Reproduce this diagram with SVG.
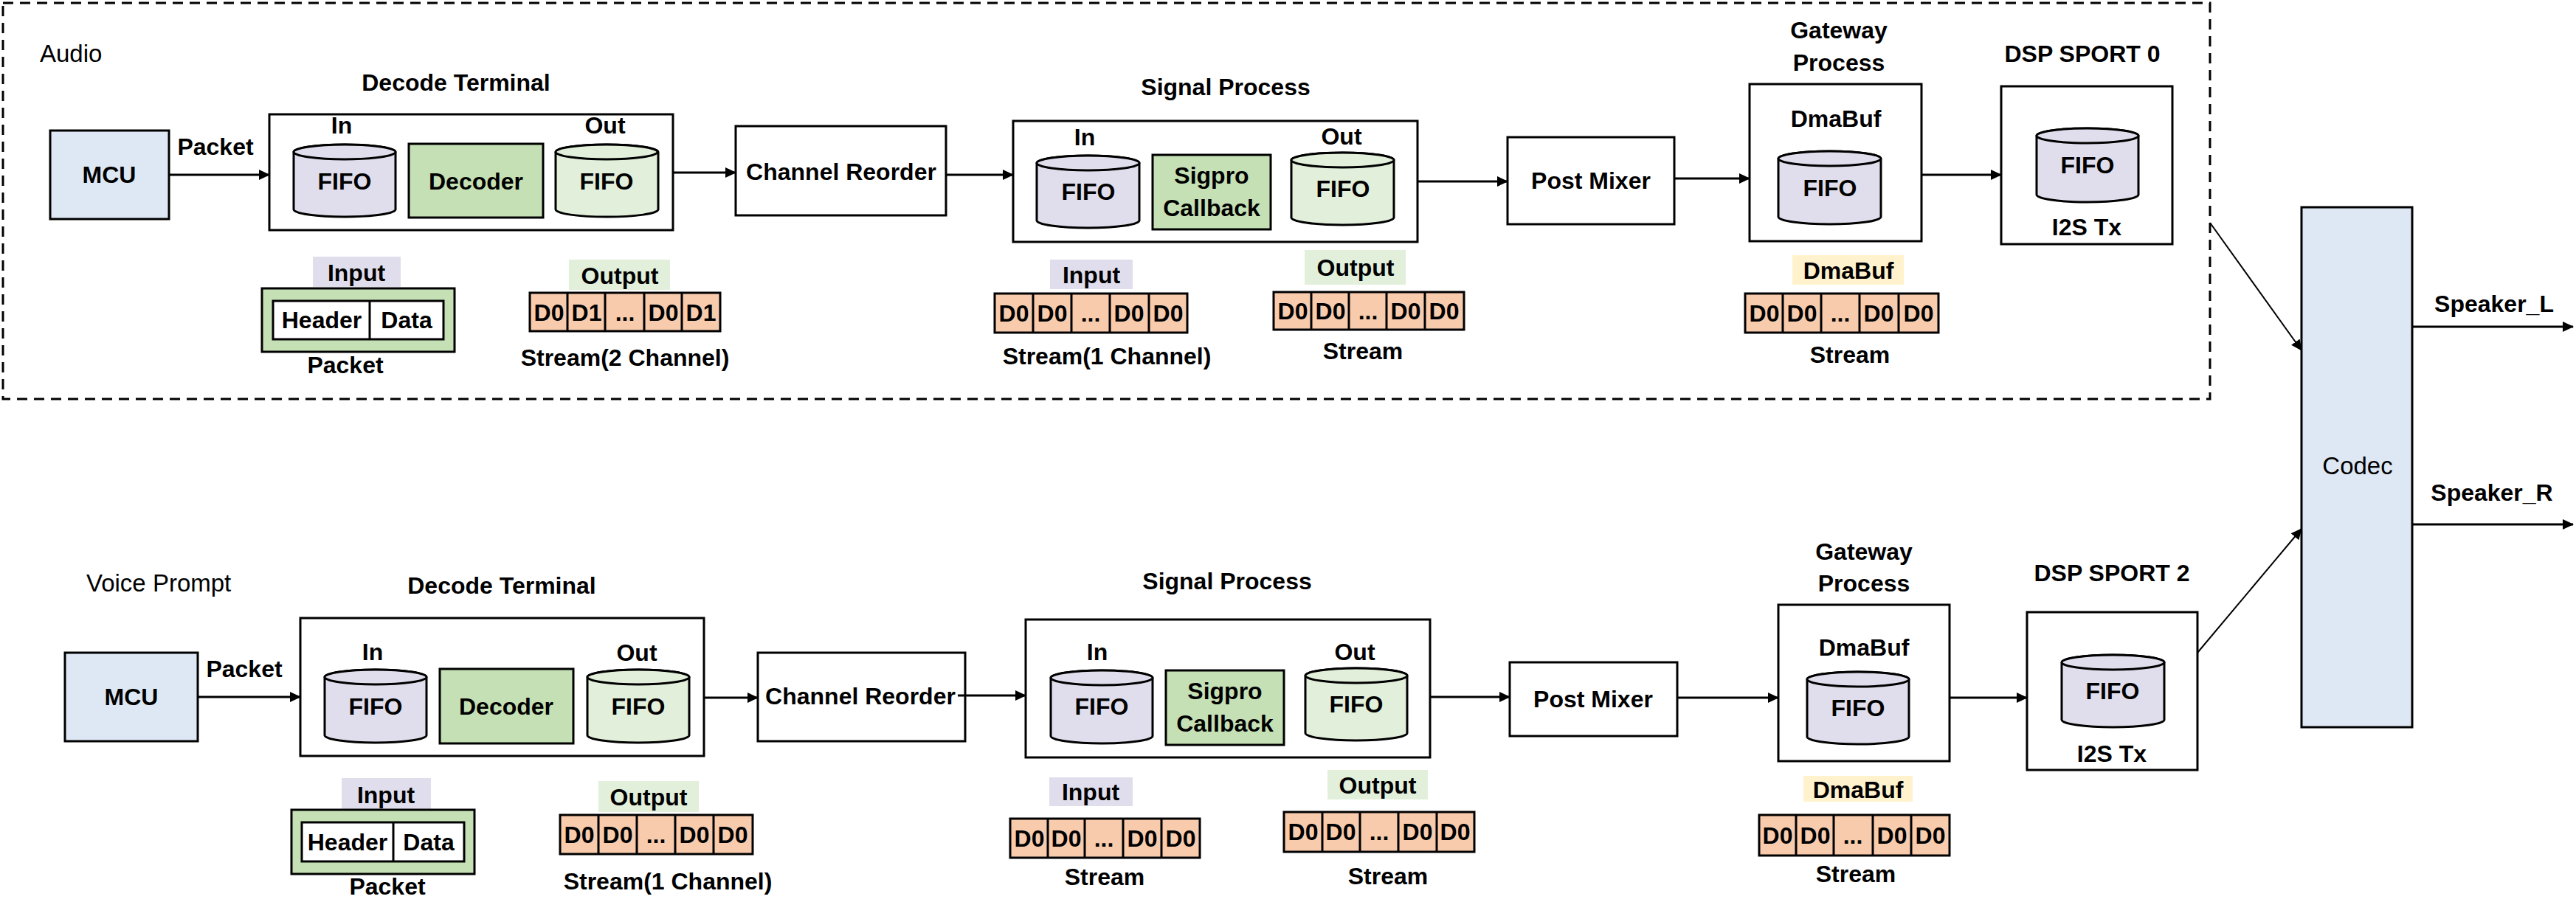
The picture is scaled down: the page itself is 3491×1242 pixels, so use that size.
<svg xmlns="http://www.w3.org/2000/svg" width="3491" height="1242" viewBox="0 0 3491 1242">
<style>
.t{font-family:"Liberation Sans",Arial,sans-serif;font-weight:bold;font-size:32px;text-anchor:middle;fill:#000}
.r{font-family:"Liberation Sans",Arial,sans-serif;font-size:33px;fill:#000}
.box{fill:#fff;stroke:#000;stroke-width:3}
.mcu{fill:#dee8f4;stroke:#000;stroke-width:3}
.lav{fill:#e0deec;stroke:#000;stroke-width:3}
.lgr{fill:#e2efda;stroke:#000;stroke-width:3}
.grn{fill:#c5e0b4;stroke:#000;stroke-width:3}
.cell{fill:#f8cbad;stroke:#000;stroke-width:3}
.lbl-in{fill:#e0deec}
.lbl-out{fill:#e2efda}
.lbl-dma{fill:#fff2cc}
.c{stroke:#000;stroke-width:3;fill:none;marker-end:url(#ah)}
.cl{stroke:#000;stroke-width:2;fill:none;marker-end:url(#ah)}
</style>
<defs>
<marker id="ah" markerUnits="userSpaceOnUse" markerWidth="16" markerHeight="16" refX="14" refY="8" orient="auto"><path d="M0,1 L15,8 L0,15 Z" fill="#000"/></marker>
</defs>
<rect x="0" y="0" width="3491" height="1242" fill="#fff"/>
<rect x="4" y="4" width="2991" height="537" fill="none" stroke="#000" stroke-width="3" stroke-dasharray="14,9"/>
<text class="r" x="54" y="84">Audio</text>
<text class="r" x="117" y="802">Voice Prompt</text>

<!-- ===== Upper row ===== -->
<g id="mcu1"><rect class="mcu" x="68" y="177" width="161" height="120"/><text class="t" x="148" y="248">MCU</text></g>
<g id="dt1">
<text class="t" x="618" y="123">Decode Terminal</text>
<rect class="box" x="365" y="155" width="547" height="157"/>
<text class="t" x="463" y="181">In</text><text class="t" x="820" y="181">Out</text>
<path class="lav" d="M398,206 A69,10 0 0 1 536,206 V284 A69,10 0 0 1 398,284 Z"/><ellipse class="lav" cx="467" cy="206" rx="69" ry="10"/>
<text class="t" x="467" y="257">FIFO</text>
<rect class="grn" x="554" y="195" width="182" height="100"/><text class="t" x="645" y="257">Decoder</text>
<path class="lgr" d="M753,206 A69,10 0 0 1 892,206 V284 A69,10 0 0 1 753,284 Z"/><ellipse class="lgr" cx="822" cy="206" rx="69" ry="10"/>
<text class="t" x="822" y="257">FIFO</text>
</g>
<g id="dt1-data">
<rect class="lbl-in" x="424" y="348" width="119" height="41"/><text class="t" x="483" y="381">Input</text>
<rect class="grn" x="355" y="391" width="261" height="86"/>
<rect class="box" x="370" y="408" width="231" height="52"/><line x1="501" y1="408" x2="501" y2="460" stroke="#000" stroke-width="3"/>
<text class="t" x="436" y="445">Header</text><text class="t" x="551" y="445">Data</text>
<text class="t" x="468" y="506">Packet</text>
<rect class="lbl-out" x="771" y="352" width="137" height="41"/><text class="t" x="840" y="385">Output</text>
<rect class="cell" x="718" y="397" width="258" height="52"/>
<path d="M769,397V449M820,397V449M873,397V449M924,397V449" stroke="#000" stroke-width="3"/>
<text class="t" x="744" y="435">D0</text><text class="t" x="795" y="435">D1</text><text class="t" x="847" y="435">...</text><text class="t" x="899" y="435">D0</text><text class="t" x="950" y="435">D1</text>
<text class="t" x="847" y="496">Stream(2 Channel)</text>
</g>
<g id="cr1"><rect class="box" x="997" y="171" width="285" height="121"/><text class="t" x="1140" y="244">Channel Reorder</text></g>
<g id="sp1">
<text class="t" x="1661" y="129">Signal Process</text>
<rect class="box" x="1373" y="164" width="548" height="164"/>
<text class="t" x="1470" y="197">In</text><text class="t" x="1818" y="196">Out</text>
<path class="lav" d="M1405,221 A69.5,10 0 0 1 1544,221 V299 A69.5,10 0 0 1 1405,299 Z"/><ellipse class="lav" cx="1474.5" cy="221" rx="69.5" ry="10"/>
<text class="t" x="1475" y="271">FIFO</text>
<rect class="grn" x="1562" y="210" width="160" height="101"/><text class="t" x="1642" y="249">Sigpro</text><text class="t" x="1642" y="293">Callback</text>
<path class="lgr" d="M1750,217 A69.5,10 0 0 1 1889,217 V295 A69.5,10 0 0 1 1750,295 Z"/><ellipse class="lgr" cx="1819.5" cy="217" rx="69.5" ry="10"/>
<text class="t" x="1820" y="267">FIFO</text>
</g>
<g id="sp1-data">
<rect class="lbl-in" x="1423" y="352" width="112" height="40"/><text class="t" x="1479" y="384">Input</text>
<rect class="cell" x="1348" y="398" width="261" height="53"/>
<path d="M1400,398V451M1452,398V451M1504,398V451M1557,398V451" stroke="#000" stroke-width="3"/>
<text class="t" x="1374" y="436">D0</text><text class="t" x="1426" y="436">D0</text><text class="t" x="1478" y="436">...</text><text class="t" x="1530" y="436">D0</text><text class="t" x="1583" y="436">D0</text>
<text class="t" x="1500" y="494">Stream(1 Channel)</text>
<rect class="lbl-out" x="1768" y="339" width="137" height="47"/><text class="t" x="1837" y="374">Output</text>
<rect class="cell" x="1726" y="396" width="258" height="51"/>
<path d="M1777,396V447M1828,396V447M1879,396V447M1931,396V447" stroke="#000" stroke-width="3"/>
<text class="t" x="1752" y="433">D0</text><text class="t" x="1803" y="433">D0</text><text class="t" x="1854" y="433">...</text><text class="t" x="1905" y="433">D0</text><text class="t" x="1957" y="433">D0</text>
<text class="t" x="1847" y="487">Stream</text>
</g>
<g id="pm1"><rect class="box" x="2043" y="186" width="226" height="118"/><text class="t" x="2156" y="256">Post Mixer</text></g>
<g id="gw1">
<text class="t" x="2492" y="52">Gateway</text><text class="t" x="2492" y="96">Process</text>
<rect class="box" x="2371" y="114" width="233" height="213"/>
<text class="t" x="2488" y="172">DmaBuf</text>
<path class="lav" d="M2410,215 A69.5,10 0 0 1 2549,215 V294 A69.5,10 0 0 1 2410,294 Z"/><ellipse class="lav" cx="2479.5" cy="215" rx="69.5" ry="10"/>
<text class="t" x="2480" y="266">FIFO</text>
<rect class="lbl-dma" x="2429" y="346" width="151" height="40"/><text class="t" x="2505" y="378">DmaBuf</text>
<rect class="cell" x="2365" y="398" width="262" height="53"/>
<path d="M2416,398V451M2468,398V451M2520,398V451M2573,398V451" stroke="#000" stroke-width="3"/>
<text class="t" x="2391" y="436">D0</text><text class="t" x="2442" y="436">D0</text><text class="t" x="2494" y="436">...</text><text class="t" x="2546" y="436">D0</text><text class="t" x="2600" y="436">D0</text>
<text class="t" x="2507" y="492">Stream</text>
</g>
<g id="dsp0">
<text class="t" x="2822" y="84">DSP SPORT 0</text>
<rect class="box" x="2712" y="117" width="232" height="214"/>
<path class="lav" d="M2760,184 A69,10 0 0 1 2898,184 V264 A69,10 0 0 1 2760,264 Z"/><ellipse class="lav" cx="2829" cy="184" rx="69" ry="10"/>
<text class="t" x="2829" y="235">FIFO</text>
<text class="t" x="2828" y="319">I2S Tx</text>
</g>

<!-- ===== Lower row ===== -->
<g id="mcu2"><rect class="mcu" x="88" y="885" width="180" height="120"/><text class="t" x="178" y="956">MCU</text></g>
<g id="dt2">
<text class="t" x="680" y="805">Decode Terminal</text>
<rect class="box" x="407" y="838" width="547" height="187"/>
<text class="t" x="505" y="895">In</text><text class="t" x="863" y="896">Out</text>
<path class="lav" d="M440,918 A69,10 0 0 1 578,918 V997 A69,10 0 0 1 440,997 Z"/><ellipse class="lav" cx="509" cy="918" rx="69" ry="10"/>
<text class="t" x="509" y="969">FIFO</text>
<rect class="grn" x="596" y="907" width="181" height="101"/><text class="t" x="686" y="969">Decoder</text>
<path class="lgr" d="M796,918 A69,10 0 0 1 934,918 V997 A69,10 0 0 1 796,997 Z"/><ellipse class="lgr" cx="865" cy="918" rx="69" ry="10"/>
<text class="t" x="865" y="969">FIFO</text>
</g>
<g id="dt2-data">
<rect class="lbl-in" x="463" y="1055" width="121" height="42"/><text class="t" x="523" y="1089">Input</text>
<rect class="grn" x="395" y="1098" width="248" height="87"/>
<rect class="box" x="409" y="1115" width="220" height="53"/><line x1="533" y1="1115" x2="533" y2="1168" stroke="#000" stroke-width="3"/>
<text class="t" x="471" y="1153">Header</text><text class="t" x="581" y="1153">Data</text>
<text class="t" x="525" y="1213">Packet</text>
<rect class="lbl-out" x="811" y="1059" width="136" height="42"/><text class="t" x="879" y="1092">Output</text>
<rect class="cell" x="759" y="1105" width="261" height="53"/>
<path d="M811,1105V1158M863,1105V1158M915,1105V1158M967,1105V1158" stroke="#000" stroke-width="3"/>
<text class="t" x="785" y="1143">D0</text><text class="t" x="837" y="1143">D0</text><text class="t" x="889" y="1143">...</text><text class="t" x="941" y="1143">D0</text><text class="t" x="993" y="1143">D0</text>
<text class="t" x="905" y="1206">Stream(1 Channel)</text>
</g>
<g id="cr2"><rect class="box" x="1027" y="885" width="281" height="120"/><text class="t" x="1166" y="955">Channel Reorder</text></g>
<g id="sp2">
<text class="t" x="1663" y="799">Signal Process</text>
<rect class="box" x="1390" y="840" width="548" height="187"/>
<text class="t" x="1487" y="895">In</text><text class="t" x="1836" y="895">Out</text>
<path class="lav" d="M1424,919 A69,10 0 0 1 1562,919 V998 A69,10 0 0 1 1424,998 Z"/><ellipse class="lav" cx="1493" cy="919" rx="69" ry="10"/>
<text class="t" x="1493" y="969">FIFO</text>
<rect class="grn" x="1580" y="909" width="160" height="101"/><text class="t" x="1660" y="948">Sigpro</text><text class="t" x="1660" y="992">Callback</text>
<path class="lgr" d="M1769,916 A69,10 0 0 1 1907,916 V994 A69,10 0 0 1 1769,994 Z"/><ellipse class="lgr" cx="1838" cy="916" rx="69" ry="10"/>
<text class="t" x="1838" y="966">FIFO</text>
</g>
<g id="sp2-data">
<rect class="lbl-in" x="1422" y="1054" width="113" height="39"/><text class="t" x="1478" y="1085">Input</text>
<rect class="cell" x="1369" y="1110" width="257" height="53"/>
<path d="M1420,1110V1163M1470,1110V1163M1522,1110V1163M1574,1110V1163" stroke="#000" stroke-width="3"/>
<text class="t" x="1395" y="1148">D0</text><text class="t" x="1445" y="1148">D0</text><text class="t" x="1496" y="1148">...</text><text class="t" x="1548" y="1148">D0</text><text class="t" x="1600" y="1148">D0</text>
<text class="t" x="1497" y="1200">Stream</text>
<rect class="lbl-out" x="1799" y="1044" width="136" height="40"/><text class="t" x="1867" y="1076">Output</text>
<rect class="cell" x="1740" y="1101" width="258" height="54"/>
<path d="M1792,1101V1155M1843,1101V1155M1895,1101V1155M1947,1101V1155" stroke="#000" stroke-width="3"/>
<text class="t" x="1766" y="1139">D0</text><text class="t" x="1817" y="1139">D0</text><text class="t" x="1869" y="1139">...</text><text class="t" x="1921" y="1139">D0</text><text class="t" x="1972" y="1139">D0</text>
<text class="t" x="1881" y="1199">Stream</text>
</g>
<g id="pm2"><rect class="box" x="2046" y="898" width="227" height="100"/><text class="t" x="2159" y="959">Post Mixer</text></g>
<g id="gw2">
<text class="t" x="2526" y="759">Gateway</text><text class="t" x="2526" y="802">Process</text>
<rect class="box" x="2410" y="820" width="232" height="212"/>
<text class="t" x="2526" y="889">DmaBuf</text>
<path class="lav" d="M2449,921 A69,10 0 0 1 2587,921 V999 A69,10 0 0 1 2449,999 Z"/><ellipse class="lav" cx="2518" cy="921" rx="69" ry="10"/>
<text class="t" x="2518" y="971">FIFO</text>
<rect class="lbl-dma" x="2444" y="1052" width="148" height="35"/><text class="t" x="2518" y="1082">DmaBuf</text>
<rect class="cell" x="2384" y="1105" width="258" height="55"/>
<path d="M2434,1105V1160M2485,1105V1160M2538,1105V1160M2590,1105V1160" stroke="#000" stroke-width="3"/>
<text class="t" x="2409" y="1144">D0</text><text class="t" x="2460" y="1144">D0</text><text class="t" x="2511" y="1144">...</text><text class="t" x="2564" y="1144">D0</text><text class="t" x="2616" y="1144">D0</text>
<text class="t" x="2515" y="1196">Stream</text>
</g>
<g id="dsp2">
<text class="t" x="2862" y="788">DSP SPORT 2</text>
<rect class="box" x="2747" y="830" width="231" height="214"/>
<path class="lav" d="M2794,898 A69.5,10 0 0 1 2933,898 V976 A69.5,10 0 0 1 2794,976 Z"/><ellipse class="lav" cx="2863.5" cy="898" rx="69.5" ry="10"/>
<text class="t" x="2863" y="948">FIFO</text>
<text class="t" x="2862" y="1033">I2S Tx</text>
</g>

<g id="codec"><rect class="mcu" x="3119" y="281" width="150" height="705"/><text class="r" x="3195" y="643" text-anchor="middle">Codec</text></g>
<text class="t" x="3380" y="423">Speaker_L</text>
<text class="t" x="3377" y="679">Speaker_R</text>

<g id="connectors">
<path class="c" d="M229,237H365"/>
<text class="t" x="292" y="210">Packet</text>
<path class="c" d="M912,234H997"/>
<path class="c" d="M1282,237H1373"/>
<path class="c" d="M1921,246H2043"/>
<path class="c" d="M2269,242H2371"/>
<path class="c" d="M2604,237H2712"/>
<path class="cl" d="M2995,302L3119,475"/>
<path class="c" d="M3269,443H3487"/>
<path class="c" d="M268,945H407"/>
<text class="t" x="331" y="918">Packet</text>
<path class="c" d="M954,946H1027"/>
<path class="c" d="M1298,943H1390"/>
<path class="c" d="M1938,945H2046"/>
<path class="c" d="M2273,946H2410"/>
<path class="c" d="M2642,946H2747"/>
<path class="cl" d="M2978,885L3119,717"/>
<path class="c" d="M3269,711H3487"/>
</g>
</svg>
